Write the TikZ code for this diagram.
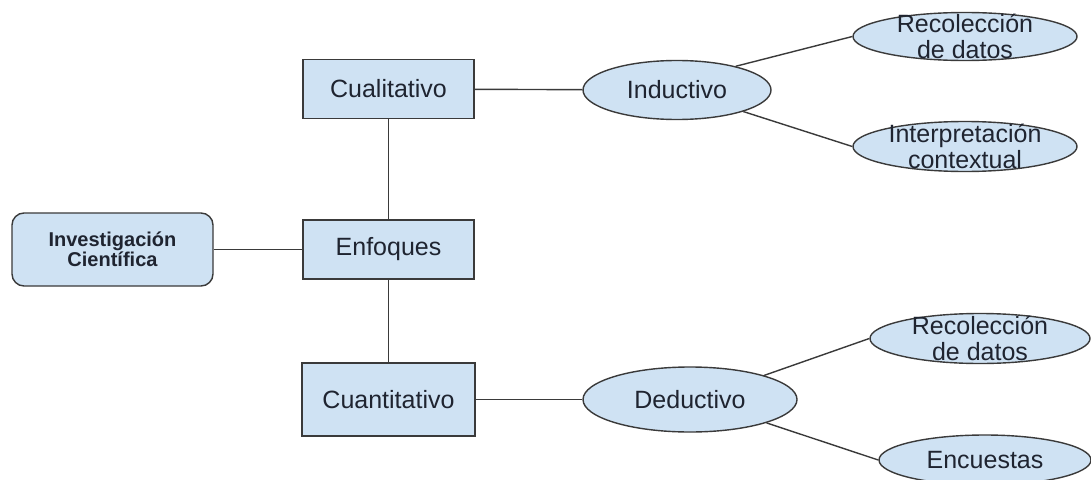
\documentclass[tikz,border=0pt]{standalone}
\usepackage{fontspec}
\setmainfont{Liberation Sans}
\usetikzlibrary{shapes.geometric}
\definecolor{fillblue}{HTML}{CFE2F3}
\definecolor{edgec}{HTML}{3A3A3A}
\definecolor{ink}{HTML}{1F2430}
\begin{document}
\begin{tikzpicture}[x=1pt,y=-1pt,
  box/.style={draw=edgec, line width=1.4pt, fill=fillblue, minimum width=171pt, minimum height=59pt, inner sep=0pt, text=ink, font=\fontsize{25}{25}\selectfont},
  ell/.style={draw=edgec, line width=1.4pt, fill=fillblue, ellipse, inner sep=0pt, text=ink, font=\fontsize{25}{25}\selectfont},
  lbl/.style={align=center, text=ink, font=\fontsize{25}{25.5}\selectfont},
  conn/.style={draw=edgec, line width=1.4pt}]
\useasboundingbox (0,0) rectangle (1091,479);
\clip (0,0) rectangle (1091,479);
\fill[white] (0,0) rectangle (1091,479);

\node[box, rounded corners=12pt, minimum width=201pt, minimum height=73pt, align=center,
      font=\bfseries\fontsize{20}{20}\selectfont] (inv) at (112.5,249.5) {Investigación\\Científica};
\node[box] (cual) at (388.5,89) {Cualitativo};
\node[box] (enf) at (388.5,249.5) {Enfoques};
\node[box, minimum width=173pt, minimum height=73pt] (cuan) at (388.5,399.5) {Cuantitativo};

\node[ell, minimum width=188pt, minimum height=59pt] (ind) at (677,90) {Inductivo};
\node[ell, minimum width=214pt, minimum height=65pt] (ded) at (690,399.5) {Deductivo};

\node[ell, minimum width=224pt, minimum height=48pt, label={[lbl]center:Recolección\\de datos}] (r1) at (965,36.5) {};
\node[ell, minimum width=224pt, minimum height=50pt, label={[lbl]center:Interpretación\\contextual}] (int) at (965,146.5) {};
\node[ell, minimum width=220pt, minimum height=50pt, label={[lbl]center:Recolección\\de datos}] (r2) at (980,338.5) {};
\node[ell, minimum width=212pt, minimum height=50pt] (enc) at (985,460) {Encuestas};

\draw[conn] (inv) -- (enf);
\draw[conn] (cual) -- (enf);
\draw[conn] (enf) -- (cuan);
\draw[conn] (cual) -- (ind);
\draw[conn] (cuan) -- (ded);
\draw[conn] (ind.22) -- (r1.west);
\draw[conn] (ind.-18) -- (int.west);
\draw[conn] (ded.18) -- (r2.west);
\draw[conn] (ded.-17) -- (enc.west);
\end{tikzpicture}
\end{document}
